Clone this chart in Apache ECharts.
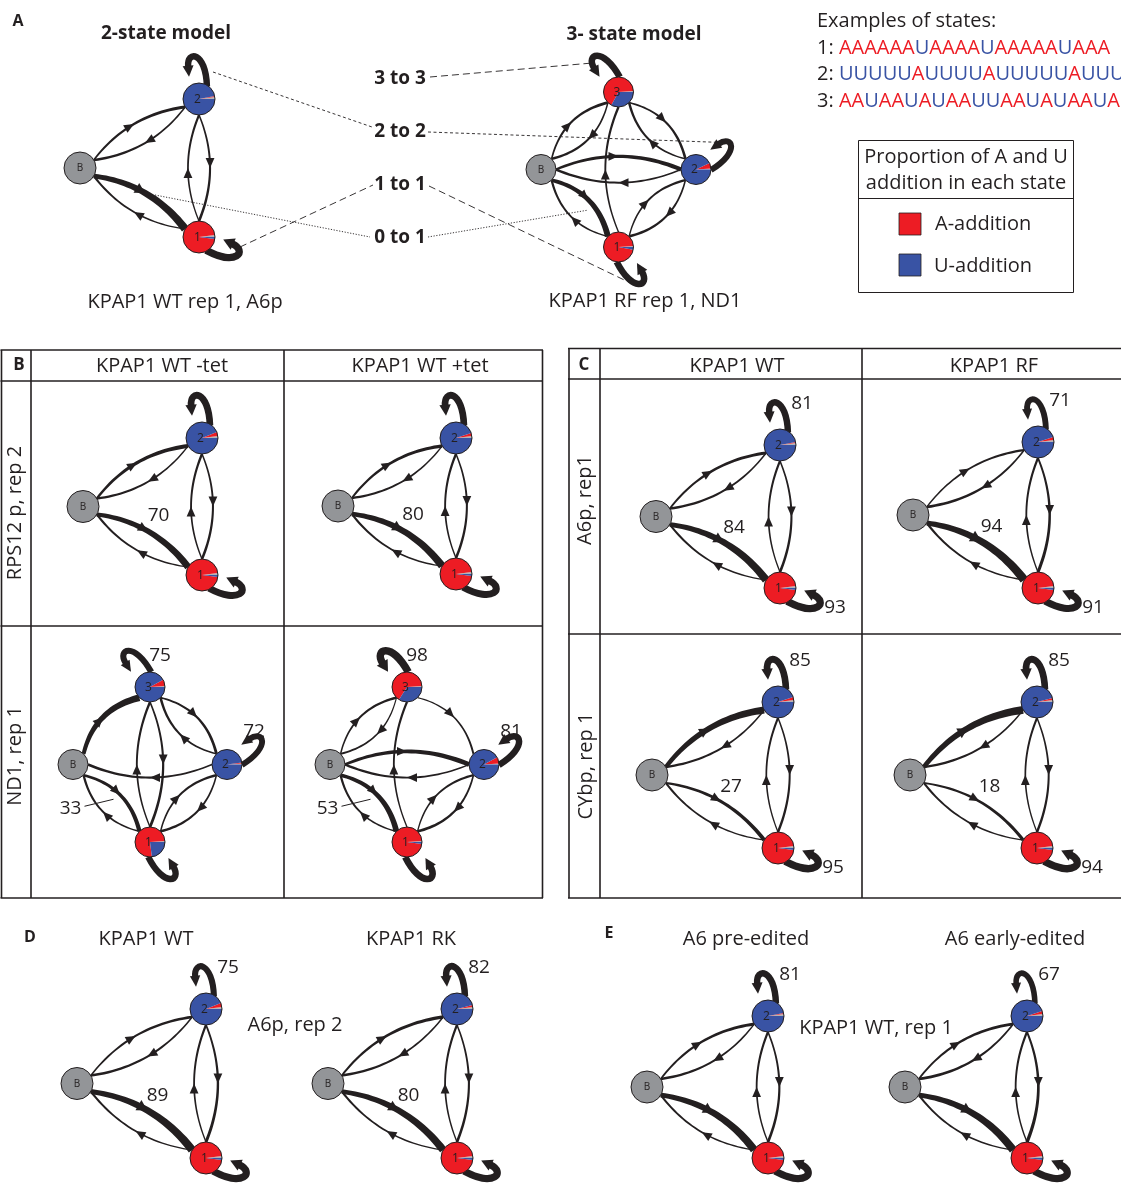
<!DOCTYPE html>
<html>
<head>
<meta charset="utf-8">
<script src="https://cdn.jsdelivr.net/npm/echarts@6/dist/echarts.min.js"></script>
<style>
  html, body { margin: 0; padding: 0; background: #fff; }
  #chart { width: 1121px; height: 1184px; }
</style>
</head>
<body>
<div id="chart"></div>
<script>
// ---- State layouts in a unit square (x to the right, y upwards) ----
const twoStates = ['B', '2', '1'];
const twoStateX = [0, 1, 1];
const twoStateY = [0.5, 1, 0];
const threeStates = ['B', '3', '2', '1'];
const threeStateX = [0, 0.5, 1, 0.5];
const threeStateY = [0.5, 1, 0.5, 0];

// ---- Transitions, written source>target ----
const twoStateLinks = ['B>2', '2>B', '2>1', '1>2', 'B>1', '1>B', '2>2', '1>1'];
const threeStateLinks = ['B>3', '3>B', '3>2', '2>3', 'B>2', '2>B', '1>3', '3>1',
                         'B>1', '1>B', '2>1', '1>2', '3>3', '2>2', '1>1'];

// ---- Transition probabilities (%), in link order ----
const wtA6pRep1     = [16, 9, 10, 4, 84, 3, 81, 93];
const rfNd1Rep1     = [12, 8, 10, 8, 31, 8, 6, 0, 57, 5, 10, 6, 82, 74, 83];
const rps12MinusTet = [30, 6, 9, 6, 70, 4, 85, 90];
const rps12PlusTet  = [20, 6, 9, 6, 80, 4, 85, 90];
const nd1MinusTet   = [67, 0, 13, 9, 0, 10, 6, 12, 33, 6, 9, 8, 75, 72, 80];
const nd1PlusTet    = [8, 1, 1, 0, 39, 7, 5, 0, 53, 5, 12, 5, 98, 81, 85];
const rfA6pRep1     = [6, 12, 17, 5, 94, 4, 71, 91];
const wtCybpRep1    = [73, 7, 8, 3, 27, 2, 85, 95];
const rfCybpRep1    = [82, 7, 8, 3, 18, 3, 85, 94];
const wtA6pRep2     = [11, 10, 15, 5, 89, 3, 75, 92];
const rkA6pRep2     = [20, 8, 10, 5, 80, 3, 82, 92];
const preEdited     = [15, 8, 11, 5, 85, 3, 81, 92];
const earlyEdited   = [15, 13, 20, 5, 85, 3, 67, 92];

// ---- Addition type shares per state [other, A, U] (%), non-B states in layout order ----
const wtA6pRep1Mix     = [[2, 1, 97], [2, 96, 2]];
const rfNd1Rep1Mix     = [[1, 66, 33], [1, 6, 93], [1, 96, 3]];
const rps12MinusTetMix = [[2, 4, 94], [2, 96, 2]];
const rps12PlusTetMix  = [[2, 3, 95], [2, 96, 2]];
const nd1MinusTetMix   = [[1, 7, 92], [1, 1, 98], [1, 76, 23]];
const nd1PlusTetMix    = [[1, 65, 34], [1, 7, 92], [1, 97, 2]];
const rfA6pRep1Mix     = [[2, 3, 95], [2, 96, 2]];
const wtCybpRep1Mix    = [[2, 3, 95], [2, 96, 2]];
const rfCybpRep1Mix    = [[2, 2, 96], [2, 96, 2]];
const wtA6pRep2Mix     = [[2, 4, 94], [2, 96, 2]];
const rkA6pRep2Mix     = [[2, 2, 96], [2, 96, 2]];
const preEditedMix     = [[2, 1, 97], [2, 96, 2]];
const earlyEditedMix   = [[2, 3, 95], [2, 96, 2]];

// ---- Example tails and legend entries ----
const exampleStates = ['1', '2', '3'];
const exampleTails = ['AAAAAAUAAAAUAAAAAUAAA', 'UUUUUAUUUUAUUUUUAUUU', 'AAUAAUAUAAUUAAUAUAAUA'];
const additionTypes = ['A-addition', 'U-addition'];

// ---- Styling ----
const INK = '#231F20';
const A_RED = '#ED1C24';
const U_BLUE = '#3953A4';
const OTHER_GREY = '#B3B5B8';
const BASE_GREY = '#939598';
const MIX_COLORS = [OTHER_GREY, A_RED, U_BLUE];
const FONT = "'Open Sans', 'Noto Sans', sans-serif";

const MODEL = {
  two: {
    states: twoStates, xs: twoStateX, ys: twoStateY, links: twoStateLinks, r: 16,
    bend: { default: 0.16 },
    loopAngle: { '2': -95, '1': 25 },
    labelAt: { '2>2': [22, -41], '1>1': [55, 20], 'B>1': [16, -25] },
    leader: {}
  },
  three: {
    states: threeStates, xs: threeStateX, ys: threeStateY, links: threeStateLinks, r: 15,
    bend: { default: 0.22, 'B>2': 0.17, '2>B': 0.17, '1>3': 0.17, '3>1': 0.17 },
    loopAngle: { '3': -122, '2': -35, '1': 60 },
    labelAt: { '3>3': [10, -31], '2>2': [27, -33], 'B>1': [-41, 5] },
    leader: { 'B>1': [[-27, 3], [2, -4]] }
  }
};

// Each network: model, placement box [left, top, width, height], data
const diagrams = [
  { model: 'two',   box: [80, 99, 119, 138],    values: wtA6pRep1,     mix: wtA6pRep1Mix,     shown: [] },
  { model: 'three', box: [541, 92, 155, 155],   values: rfNd1Rep1,     mix: rfNd1Rep1Mix,     shown: [] },
  { model: 'two',   box: [83, 438, 119, 137],   values: rps12MinusTet, mix: rps12MinusTetMix, shown: ['B>1'] },
  { model: 'two',   box: [338, 438, 118, 136],  values: rps12PlusTet,  mix: rps12PlusTetMix,  shown: ['B>1'] },
  { model: 'three', box: [73, 687, 154, 155],   values: nd1MinusTet,   mix: nd1MinusTetMix,   shown: ['3>3', '2>2', 'B>1'] },
  { model: 'three', box: [330, 687, 154, 155],  values: nd1PlusTet,    mix: nd1PlusTetMix,    shown: ['3>3', '2>2', 'B>1'] },
  { model: 'two',   box: [656, 445, 124, 143],  values: wtA6pRep1,     mix: wtA6pRep1Mix,     shown: ['2>2', 'B>1', '1>1'] },
  { model: 'two',   box: [913, 442, 125, 146],  values: rfA6pRep1,     mix: rfA6pRep1Mix,     shown: ['2>2', 'B>1', '1>1'] },
  { model: 'two',   box: [652, 702, 126, 146],  values: wtCybpRep1,    mix: wtCybpRep1Mix,    shown: ['2>2', 'B>1', '1>1'] },
  { model: 'two',   box: [910, 702, 127, 146],  values: rfCybpRep1,    mix: rfCybpRep1Mix,    shown: ['2>2', 'B>1', '1>1'] },
  { model: 'two',   box: [77, 1009, 129, 149],  values: wtA6pRep2,     mix: wtA6pRep2Mix,     shown: ['2>2', 'B>1'] },
  { model: 'two',   box: [328, 1009, 129, 149], values: rkA6pRep2,     mix: rkA6pRep2Mix,     shown: ['2>2', 'B>1'] },
  { model: 'two',   box: [647, 1016, 121, 142], values: preEdited,     mix: preEditedMix,     shown: ['2>2'] },
  { model: 'two',   box: [905, 1016, 122, 142], values: earlyEdited,   mix: earlyEditedMix,   shown: ['2>2'] }
];

function linkWidth(p) { return 1.6 + 0.06 * p; }

function textStyle(text, x, y, size, extra) {
  return Object.assign({
    text, x, y, font: size + 'px ' + FONT, fill: INK,
    align: 'center', textAlign: 'center', verticalAlign: 'middle', textVerticalAlign: 'middle'
  }, extra || {});
}

// Quadratic curve outline whose width grows from source to target
function taperedCurve(P0, P1, P2, w0, w1) {
  const n = 28, left = [], right = [];
  for (let i = 0; i <= n; i++) {
    const t = i / n, mt = 1 - t;
    const x = mt * mt * P0[0] + 2 * mt * t * P1[0] + t * t * P2[0];
    const y = mt * mt * P0[1] + 2 * mt * t * P1[1] + t * t * P2[1];
    const tx = 2 * mt * (P1[0] - P0[0]) + 2 * t * (P2[0] - P1[0]);
    const ty = 2 * mt * (P1[1] - P0[1]) + 2 * t * (P2[1] - P1[1]);
    const tl = Math.hypot(tx, ty) || 1;
    const hw = (w0 + (w1 - w0) * t) / 2;
    left.push([x - ty / tl * hw, y + tx / tl * hw]);
    right.push([x + ty / tl * hw, y - tx / tl * hw]);
  }
  return left.concat(right.reverse());
}

function drawLink(m, key, a, b, p, showValue) {
  const w = linkWidth(p);
  const parts = [];
  const [s, t] = key.split('>');
  let anchor;
  if (s === t) {
    // self transition: hook that leaves the state and points back at it
    const th = m.loopAngle[s] * Math.PI / 180;
    const u = [Math.cos(th), Math.sin(th)], v = [-u[1], u[0]];
    const at = (su, sv) => [a[0] + su * u[0] + sv * v[0], a[1] + su * u[1] + sv * v[1]];
    const S = at(12, 9), C1 = at(47, 11), C2 = at(50, -8), E = at(33, -8);
    parts.push({
      type: 'bezierCurve',
      shape: { x1: S[0], y1: S[1], x2: E[0], y2: E[1], cpx1: C1[0], cpy1: C1[1], cpx2: C2[0], cpy2: C2[1] },
      style: { stroke: INK, lineWidth: w, fill: 'none' }
    });
    const hw = Math.max(5, 0.85 * w);
    parts.push({
      type: 'polygon',
      shape: { points: [at(23, -8), at(34, -8 + hw), at(34, -8 - hw)] },
      style: { fill: INK }
    });
    anchor = a;
  } else {
    const bend = m.bend[key] != null ? m.bend[key] : m.bend.default;
    const dx = b[0] - a[0], dy = b[1] - a[1], L = Math.hypot(dx, dy);
    const ux = dx / L, uy = dy / L, nx = uy, ny = -ux;
    const h = bend * L;
    const mid = [(a[0] + b[0]) / 2, (a[1] + b[1]) / 2];
    const P0 = [a[0] + ux * m.r, a[1] + uy * m.r];
    const P2 = [b[0] - ux * m.r, b[1] - uy * m.r];
    const P1 = [mid[0] + nx * h, mid[1] + ny * h];
    parts.push({
      type: 'polygon',
      shape: { points: taperedCurve(P0, P1, P2, w * 0.7, w * 1.2) },
      style: { fill: INK }
    });
    const T = [mid[0] + nx * h / 2, mid[1] + ny * h / 2];
    const len = Math.max(10, 1.5 * w), hw = Math.max(4.4, 0.85 * w);
    const base = [T[0] - ux * len, T[1] - uy * len];
    parts.push({
      type: 'polygon',
      shape: { points: [T, [base[0] + nx * hw, base[1] + ny * hw], [base[0] - nx * hw, base[1] - ny * hw]] },
      style: { fill: INK }
    });
    anchor = mid;
  }
  if (showValue) {
    const off = m.labelAt[key];
    parts.push({ type: 'text', style: textStyle(String(p), anchor[0] + off[0], anchor[1] + off[1], 19) });
    const ld = m.leader[key];
    if (ld) {
      parts.push({
        type: 'line',
        shape: { x1: anchor[0] + ld[0][0], y1: anchor[1] + ld[0][1], x2: anchor[0] + ld[1][0], y2: anchor[1] + ld[1][1] },
        style: { stroke: INK, lineWidth: 1 }
      });
    }
  }
  return { type: 'group', children: parts };
}

function drawNode(m, s, c, mix) {
  const r = m.r;
  const parts = [];
  if (!mix) {
    parts.push({ type: 'circle', shape: { cx: c[0], cy: c[1], r }, style: { fill: BASE_GREY, stroke: INK, lineWidth: 1 } });
  } else {
    const total = mix.reduce((x, y) => x + y, 0);
    let acc = 0;
    mix.forEach((share, i) => {
      if (!share) return;
      const a0 = acc / total * Math.PI * 2, a1 = (acc + share) / total * Math.PI * 2;
      acc += share;
      parts.push({
        type: 'sector',
        shape: { cx: c[0], cy: c[1], r0: 0, r, startAngle: -a1, endAngle: -a0, clockwise: true },
        style: { fill: MIX_COLORS[i] }
      });
    });
    parts.push({ type: 'circle', shape: { cx: c[0], cy: c[1], r }, style: { fill: 'none', stroke: INK, lineWidth: 1 } });
  }
  parts.push({
    type: 'text',
    style: textStyle(s, c[0] - (s === 'B' ? 0 : 1.5), c[1] + 0.5, s === 'B' ? 10 : 12)
  });
  return { type: 'group', children: parts };
}

const grids = [], xAxes = [], yAxes = [], series = [];
diagrams.forEach((d, gi) => {
  const m = MODEL[d.model];
  grids.push({ left: d.box[0], top: d.box[1], width: d.box[2], height: d.box[3], outerBoundsMode: 'none' });
  xAxes.push({ gridIndex: gi, type: 'value', min: 0, max: 1, show: false });
  yAxes.push({ gridIndex: gi, type: 'value', min: 0, max: 1, show: false });
  const pos = st => { const i = m.states.indexOf(st); return [m.xs[i], m.ys[i]]; };
  const items = [];
  m.links.forEach((key, k) => {
    const p = d.values[k];
    if (!(p > 0)) return;
    const [s, t] = key.split('>');
    items.push({ key, p, s, t });
  });
  series.push({
    type: 'custom', coordinateSystem: 'cartesian2d', xAxisIndex: gi, yAxisIndex: gi,
    clip: false, silent: true, z: 2, encode: { x: [0, 2], y: [1, 3] },
    data: items.map(it => [...pos(it.s), ...pos(it.t), it.p]),
    renderItem: (params, api) => {
      const it = items[params.dataIndex];
      const a = api.coord([api.value(0), api.value(1)]);
      const b = api.coord([api.value(2), api.value(3)]);
      return drawLink(m, it.key, a, b, api.value(4), d.shown.indexOf(it.key) >= 0);
    }
  });
  series.push({
    type: 'custom', coordinateSystem: 'cartesian2d', xAxisIndex: gi, yAxisIndex: gi,
    clip: false, silent: true, z: 3, encode: { x: 0, y: 1 },
    data: m.states.map((s, i) => [m.xs[i], m.ys[i]]),
    renderItem: (params, api) => {
      const s = m.states[params.dataIndex];
      const c = api.coord([api.value(0), api.value(1)]);
      return drawNode(m, s, c, s === 'B' ? null : d.mix[params.dataIndex - 1]);
    }
  });
});

const chart = echarts.init(document.getElementById('chart'), null, { renderer: 'canvas' });
chart.setOption({
  backgroundColor: '#fff',
  animation: false,
  grid: grids, xAxis: xAxes, yAxis: yAxes, series
});

// ---- Annotations ----
function txt(text, x, y, o) {
  o = o || {};
  const align = o.align || 'center';
  return {
    type: 'text', x, y, rotation: o.rotation || 0, silent: true, z: 10,
    style: {
      text, x: 0, y: 0,
      font: (o.bold ? 'bold ' : '') + (o.size || 20) + 'px ' + FONT,
      fill: o.color || INK,
      align, textAlign: align, verticalAlign: 'middle', textVerticalAlign: 'middle',
      rich: o.rich
    }
  };
}
function seg(x1, y1, x2, y2, w, dash) {
  return { type: 'line', silent: true, z: 9, shape: { x1, y1, x2, y2 },
           style: { stroke: INK, lineWidth: w || 1.6, lineDash: dash || null } };
}
function box(x, y, w, h, fill, lw) {
  return { type: 'rect', silent: true, z: 9, shape: { x, y, width: w, height: h },
           style: { fill: fill || 'none', stroke: INK, lineWidth: lw || 1 } };
}
function tailText(label, tail) {
  let s = '{k|' + label + ': }';
  tail.replace(/A+|U+/g, run => { s += '{' + (run[0] === 'A' ? 'a' : 'u') + '|' + run + '}'; return run; });
  return s;
}
const tailRich = {
  k: { fill: INK, fontSize: 20, fontFamily: FONT },
  a: { fill: A_RED, fontSize: 20, fontFamily: FONT },
  u: { fill: U_BLUE, fontSize: 20, fontFamily: FONT }
};

function statePx(gi, st) {
  const m = MODEL[diagrams[gi].model];
  const i = m.states.indexOf(st);
  return chart.convertToPixel({ gridIndex: gi }, [m.xs[i], m.ys[i]]);
}
function plus(p, o) { return [p[0] + o[0], p[1] + o[1]]; }
function midOf(p, q) { return [(p[0] + q[0]) / 2, (p[1] + q[1]) / 2]; }

const L2 = { B: statePx(0, 'B'), s2: statePx(0, '2'), s1: statePx(0, '1') };
const R3 = { B: statePx(1, 'B'), s3: statePx(1, '3'), s2: statePx(1, '2'), s1: statePx(1, '1') };
const link = (p, q, dash, w) => seg(p[0], p[1], q[0], q[1], w || 0.9, dash);
const longDash = [7, 4], shortDash = [3, 2.5], dotted = [1.2, 1.6];

const connectors = [
  link([430, 77], plus(R3.s3, [-26, -29]), longDash),
  link(plus(L2.s2, [14, -27]), [372, 127], shortDash),
  link([428, 132], plus(R3.s2, [27, -27]), shortDash),
  link(plus(L2.s1, [41, 10]), [373, 185], longDash),
  link([429, 186], plus(R3.s1, [12, 36]), longDash),
  link(plus(midOf(L2.B, L2.s1), [15.5, -7.5]), [370, 237], dotted),
  link([428, 237], plus(midOf(R3.B, R3.s1), [7.5, 2]), dotted)
];

const annotations = [
  // panel A
  txt('A', 18, 21, { bold: true, size: 16 }),
  txt('2-state model', 166, 34, { bold: true, size: 19 }),
  txt('3- state model', 634, 35, { bold: true, size: 19 }),
  txt('KPAP1 WT rep 1, A6p', 185, 302),
  txt('KPAP1 RF rep 1, ND1', 645, 301),
  txt('3 to 3', 400, 79, { bold: true, size: 19 }),
  txt('2 to 2', 400, 132, { bold: true, size: 19 }),
  txt('1 to 1', 400, 185, { bold: true, size: 19 }),
  txt('0 to 1', 400, 238, { bold: true, size: 19 }),
  txt('Examples of states:', 817, 21, { align: 'left' }),
  ...exampleStates.map((st, i) => txt(tailText(st, exampleTails[i]), 817, 48 + i * 26.5, { align: 'left', rich: tailRich })),
  box(858.5, 140.5, 215, 152),
  seg(858.5, 198.5, 1073.5, 198.5, 1),
  txt('Proportion of A and U', 966, 157),
  txt('addition in each state', 966, 183),
  box(899, 213, 22, 22, A_RED, 0.8),
  txt(additionTypes[0], 935, 224, { align: 'left' }),
  box(899, 254, 22, 22, U_BLUE, 0.8),
  txt(additionTypes[1], 934, 266, { align: 'left' }),

  // panel B table
  seg(0.5, 350, 543, 350), seg(0.5, 381, 543, 381), seg(0.5, 626, 543, 626), seg(0.5, 898, 543, 898),
  seg(1.5, 350, 1.5, 898), seg(31, 350, 31, 898), seg(284, 350, 284, 898), seg(542.5, 350, 542.5, 898),
  txt('B', 19, 365, { bold: true, size: 17 }),
  txt('KPAP1 WT -tet', 162, 366),
  txt('KPAP1 WT +tet', 420, 366),
  txt('RPS12 p, rep 2', 15, 513, { rotation: Math.PI / 2 }),
  txt('ND1, rep 1', 15, 756, { rotation: Math.PI / 2 }),

  // panel C table
  seg(568, 348.5, 1121, 348.5), seg(568, 379, 1121, 379), seg(568, 634, 1121, 634), seg(568, 898, 1121, 898),
  seg(569, 348.5, 569, 898), seg(600, 348.5, 600, 898), seg(862, 348.5, 862, 898),
  txt('C', 584, 365, { bold: true, size: 17 }),
  txt('KPAP1 WT', 737, 366),
  txt('KPAP1 RF', 994, 366),
  txt('A6p, rep1', 585, 500, { rotation: Math.PI / 2 }),
  txt('CYbp, rep 1', 586, 766, { rotation: Math.PI / 2 }),

  // panel D
  txt('D', 30, 937, { bold: true, size: 16 }),
  txt('KPAP1 WT', 146, 939),
  txt('KPAP1 RK', 411, 939),
  txt('A6p, rep 2', 295, 1025),

  // panel E
  txt('E', 609, 933, { bold: true, size: 16 }),
  txt('A6 pre-edited', 746, 939),
  txt('A6 early-edited', 1015, 939),
  txt('KPAP1 WT, rep 1', 876, 1028)
];

chart.setOption({ graphic: { elements: annotations.concat(connectors) } });
</script>
</body>
</html>
